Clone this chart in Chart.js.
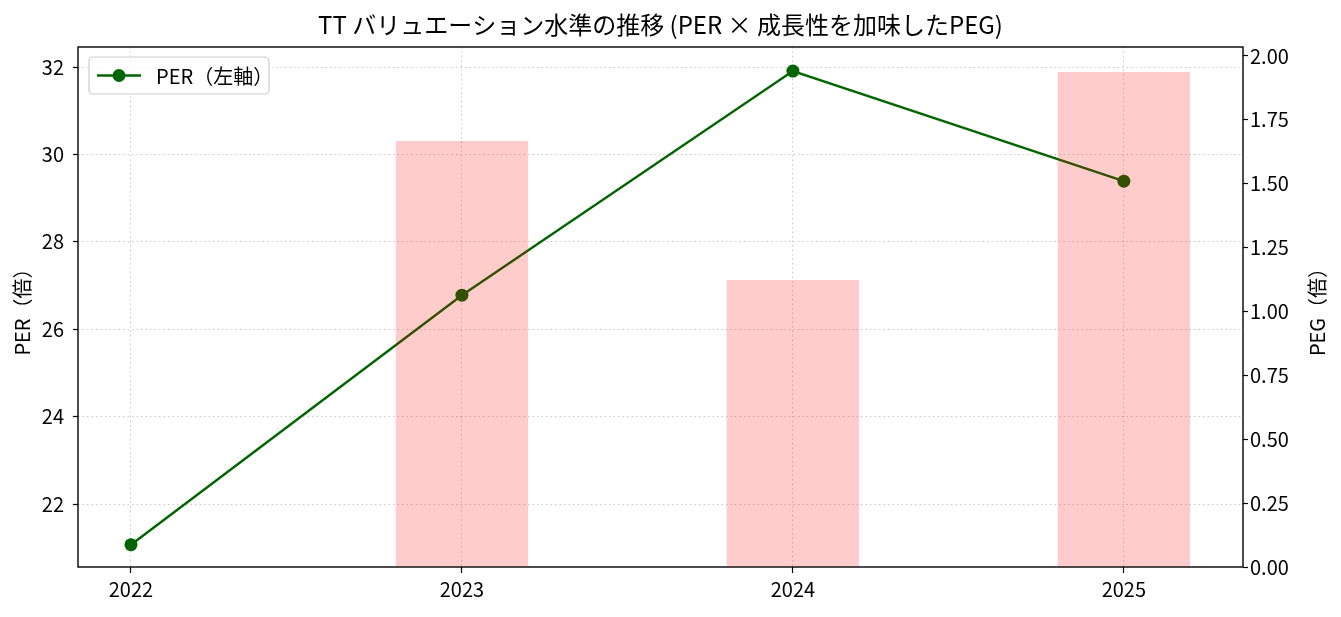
<!DOCTYPE html>
<html><head><meta charset="utf-8">
<script src="https://cdn.jsdelivr.net/npm/chart.js@4/dist/chart.umd.min.js"></script>
<style>html,body{margin:0;padding:0;background:#fff}</style>
</head><body>
<canvas id="c" width="1341" height="617"></canvas>
<script>
const years = ['2022', '2023', '2024', '2025'];
const perValues = [21.07, 26.78, 31.91, 29.39];
const pegValues = [null, 1.667, 1.123, 1.937];
const perTicks = [22, 24, 26, 28, 30, 32];
const pegTicks = [0, 0.25, 0.5, 0.75, 1.0, 1.25, 1.5, 1.75, 2.0];
const titleText = 'TT バリュエーション水準の推移 (PER × 成長性を加味したPEG)';
const perLabel = 'PER（左軸）';
const pegLabel = 'PEG（倍）';
const perAxisLabel = 'PER（倍）';

const FONT = "'Noto Sans CJK JP', 'Noto Sans', sans-serif";
Chart.defaults.font.family = FONT;
Chart.defaults.color = '#000';

const GRID = 'rgba(150,150,150,0.5)';

const framePlugin = {
  id: 'frame',
  afterDatasetsDraw(chart) {
    const {ctx, chartArea: a} = chart;
    ctx.save();
    ctx.strokeStyle = '#000';
    ctx.lineWidth = 1.4;
    ctx.strokeRect(a.left, a.top, a.right - a.left, a.bottom - a.top);
    ctx.restore();
  }
};

const extrasPlugin = {
  id: 'extras',
  afterDraw(chart) {
    const {ctx, chartArea: a} = chart;
    ctx.save();
    ctx.font = `20px ${FONT}`;
    ctx.fillStyle = '#000';
    ctx.textAlign = 'center';
    ctx.textBaseline = 'middle';
    ctx.translate(1317, (a.top + a.bottom) / 2);
    ctx.rotate(-Math.PI / 2);
    ctx.fillText(pegLabel, 0, 0);
    ctx.restore();
    const ds = chart.data.datasets.find(d => d.type === 'line');
    const x0 = a.left + 11, y0 = a.top + 10, w = 180, h = 37;
    ctx.save();
    ctx.beginPath();
    ctx.roundRect(x0, y0, w, h, 4);
    ctx.fillStyle = 'rgba(255,255,255,0.8)';
    ctx.fill();
    ctx.strokeStyle = '#cccccc';
    ctx.lineWidth = 1.2;
    ctx.stroke();
    const cy = y0 + h / 2;
    ctx.strokeStyle = ds.borderColor;
    ctx.lineWidth = ds.borderWidth;
    ctx.beginPath();
    ctx.moveTo(x0 + 8, cy);
    ctx.lineTo(x0 + 52, cy);
    ctx.stroke();
    ctx.beginPath();
    ctx.arc(x0 + 30, cy, ds.pointRadius, 0, Math.PI * 2);
    ctx.fillStyle = ds.pointBackgroundColor;
    ctx.fill();
    ctx.fillStyle = '#000';
    ctx.font = `20px ${FONT}`;
    ctx.textBaseline = 'middle';
    ctx.textAlign = 'left';
    ctx.fillText(ds.label, x0 + 67, cy + 1);
    ctx.restore();
  }
};

new Chart(document.getElementById('c'), {
  type: 'bar',
  data: {
    datasets: [
      {
        type: 'bar',
        label: 'PEG',
        data: pegValues.map((v, i) => ({x: i, y: v})).filter(p => p.y !== null),
        backgroundColor: 'rgba(255,0,0,0.2)',
        borderWidth: 0,
        barPercentage: 0.4,
        categoryPercentage: 1.0,
        yAxisID: 'y1',
        order: 0
      },
      {
        type: 'line',
        label: perLabel,
        data: perValues.map((v, i) => ({x: i, y: v})),
        borderColor: '#006400',
        backgroundColor: '#006400',
        pointBackgroundColor: '#006400',
        pointBorderWidth: 0,
        pointRadius: 6.5,
        borderWidth: 2.4,
        tension: 0,
        yAxisID: 'y',
        order: 1
      }
    ]
  },
  options: {
    responsive: false,
    animation: false,
    layout: {padding: 0},
    plugins: {
      legend: {display: false},
      tooltip: {enabled: false},
      title: {
        display: true,
        text: titleText,
        fullSize: false,
        color: '#000',
        font: {size: 24, weight: 'normal', family: FONT},
        padding: {top: 10, bottom: 8.2}
      }
    },
    scales: {
      x: {
        type: 'linear',
        min: -0.16,
        max: 3.36,
        offset: false,
        afterFit(s) { s.height = 50; },
        afterBuildTicks(s) { s.ticks = years.map((_, i) => ({value: i})); },
        ticks: {
          callback: v => years[v] ?? '',
          font: {size: 20},
          padding: 4,
          maxRotation: 0,
          autoSkip: false
        },
        grid: {
          color: GRID,
          lineWidth: 1,
          offset: false,
          drawTicks: true,
          tickLength: 6,
          tickColor: '#000',
          tickWidth: 1.2,
          tickBorderDash: []
        },
        border: {display: false, dash: [1.5, 3]}
      },
      y: {
        type: 'linear',
        position: 'left',
        min: 20.56,
        max: 32.46,
        afterFit(s) { s.width = 78; },
        afterBuildTicks(s) { s.ticks = perTicks.map(v => ({value: v})); },
        ticks: {callback: v => String(v), font: {size: 20}, padding: 9},
        grid: {
          color: GRID,
          lineWidth: 1,
          drawTicks: true,
          tickLength: 5,
          tickColor: '#000',
          tickWidth: 1.2,
          tickBorderDash: []
        },
        border: {display: false, dash: [1.5, 3]},
        title: {display: true, text: perAxisLabel, font: {size: 20}, padding: {top: 10, bottom: 0}}
      },
      y1: {
        type: 'linear',
        position: 'right',
        min: 0,
        max: 2.035,
        afterFit(s) { s.width = 98; },
        afterBuildTicks(s) { s.ticks = pegTicks.map(v => ({value: v})); },
        ticks: {callback: v => v.toFixed(2), font: {size: 20}, padding: 2},
        grid: {
          drawOnChartArea: false,
          drawTicks: true,
          tickLength: 5,
          tickColor: '#000',
          tickWidth: 1.2,
          color: '#000'
        },
        border: {display: false}
      }
    }
  },
  plugins: [framePlugin, extrasPlugin]
});
</script>
</body></html>
